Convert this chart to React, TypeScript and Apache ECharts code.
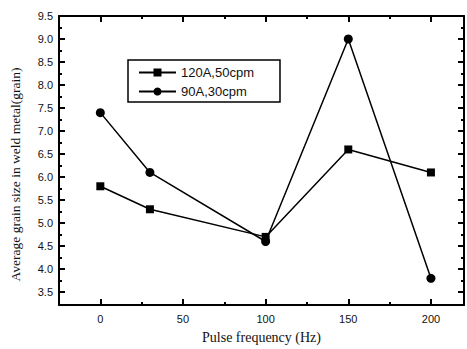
import React, { useEffect, useRef } from "react";
import * as echarts from "echarts";

const freq = [0, 30, 100, 150, 200];
const s120 = [5.8, 5.3, 4.7, 6.6, 6.1];
const s90 = [7.4, 6.1, 4.6, 9.0, 3.8];
const xMajor = [0, 50, 100, 150, 200];
const xMinor = [25, 75, 125, 175];
const yMajor = [3.5, 4.0, 4.5, 5.0, 5.5, 6.0, 6.5, 7.0, 7.5, 8.0, 8.5, 9.0, 9.5];
const yMinor = [3.75, 4.25, 4.75, 5.25, 5.75, 6.25, 6.75, 7.25, 7.75, 8.25, 8.75, 9.25];
const seriesNames = ["120A,50cpm", "90A,30cpm"];

const X_MIN = -25, X_MAX = 220, Y_MIN = 3.22, Y_MAX = 9.5;

function xAxis(position: string, ticks: number[], len: number, showLine: boolean, labels: boolean, name?: string) {
  return {
    type: "value", position, min: X_MIN, max: X_MAX,
    splitLine: { show: false },
    axisLine: { show: showLine, onZero: false, lineStyle: { color: "#000", width: 2 } },
    axisTick: { show: true, inside: true, length: len, customValues: ticks, lineStyle: { color: "#000", width: 2 } },
    axisLabel: labels
      ? { show: true, customValues: ticks, color: "#111", fontFamily: "Liberation Sans, Arial", fontSize: 11, margin: 8 }
      : { show: false },
    name, nameLocation: "middle", nameGap: 25,
    nameTextStyle: { fontFamily: "Liberation Serif, Times New Roman", fontSize: 14, color: "#111" },
  };
}
function yAxis(position: string, ticks: number[], len: number, showLine: boolean, labels: boolean, name?: string) {
  return {
    type: "value", position, min: Y_MIN, max: Y_MAX,
    splitLine: { show: false },
    axisLine: { show: showLine, onZero: false, lineStyle: { color: "#000", width: 2 } },
    axisTick: { show: true, inside: true, length: len, customValues: ticks, lineStyle: { color: "#000", width: 2 } },
    axisLabel: labels
      ? { show: true, customValues: ticks, color: "#111", fontFamily: "Liberation Sans, Arial", fontSize: 11, margin: 6,
          formatter: (v: number) => v.toFixed(1) }
      : { show: false },
    name, nameLocation: "middle", nameGap: 37,
    nameTextStyle: { fontFamily: "Liberation Serif, Times New Roman", fontSize: 13.5, color: "#111", padding: [0, 28, 0, 0] },
  };
}

export default function App() {
  const ref = useRef<HTMLDivElement>(null);
  useEffect(() => {
    document.body.style.margin = "0";
    const chart = echarts.init(ref.current!, null, { renderer: "svg" });
    chart.setOption({
      animation: false,
      backgroundColor: "#fff",
      grid: { left: 56, right: 3, top: 16, bottom: 43 },
      legend: {
        orient: "vertical", left: 128, top: 60,
        padding: [6, 26, 4, 10], itemGap: 6, itemWidth: 37, itemHeight: 10,
        borderColor: "#000", borderWidth: 1.5,
        textStyle: { fontFamily: "Liberation Sans, Arial", fontSize: 13, color: "#111" },
        data: seriesNames,
      },
      xAxis: [
        xAxis("bottom", xMajor, 6, true, true, "Pulse frequency (Hz)"),
        xAxis("bottom", xMinor, 3, false, false),
        xAxis("top", xMajor, 6, true, false),
        xAxis("top", xMinor, 3, false, false),
      ],
      yAxis: [
        yAxis("left", yMajor, 6, true, true, "Average grain size in weld metal(grain)"),
        yAxis("left", yMinor, 3, false, false),
        yAxis("right", yMajor, 6, true, false),
        yAxis("right", yMinor, 3, false, false),
      ],
      series: [
        {
          name: seriesNames[0], type: "line", xAxisIndex: 0, yAxisIndex: 0,
          data: freq.map((f, i) => [f, s120[i]]),
          symbol: "rect", symbolSize: 8,
          lineStyle: { color: "#000", width: 1.5 }, itemStyle: { color: "#000" },
        },
        {
          name: seriesNames[1], type: "line", xAxisIndex: 0, yAxisIndex: 0,
          data: freq.map((f, i) => [f, s90[i]]),
          symbol: "circle", symbolSize: 9,
          lineStyle: { color: "#000", width: 1.5 }, itemStyle: { color: "#000" },
        },
      ],
    });
    return () => chart.dispose();
  }, []);
  return <div ref={ref} style={{ width: 467, height: 349 }} />;
}
